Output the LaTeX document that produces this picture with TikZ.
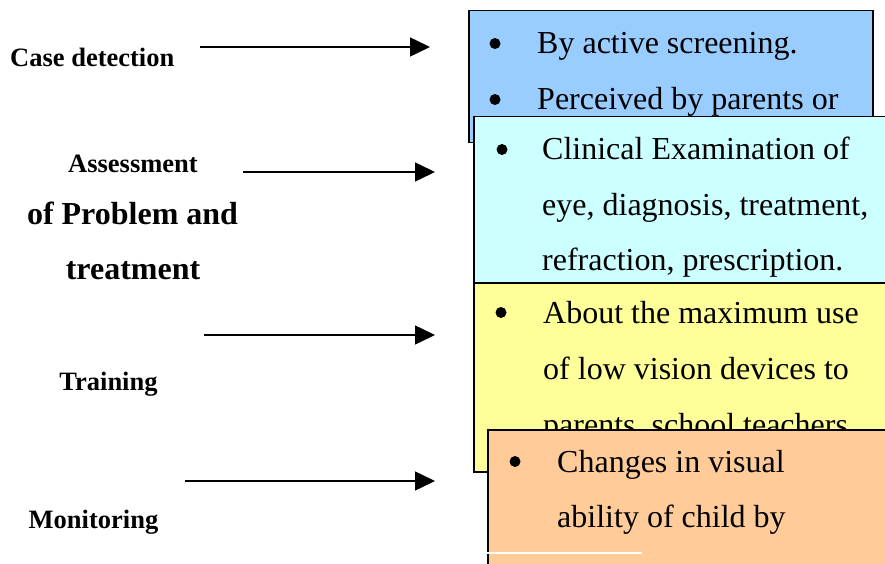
\documentclass[tikz,border=0pt]{standalone}
\usepackage{fontspec}
\setmainfont{Liberation Serif}
\usetikzlibrary{arrows.meta}
\definecolor{boxblue}{HTML}{99CCFF}
\definecolor{boxcyan}{HTML}{CCFFFF}
\definecolor{boxyellow}{HTML}{FFFF99}
\definecolor{boxorange}{HTML}{FFCC99}
\begin{document}
\begin{tikzpicture}[x=1pt,y=-1pt]
    \tikzstyle{every node}=[inner sep=0pt]
    \tikzstyle{stage}=[anchor=base,font=\fontsize{26.5}{30}\selectfont\bfseries]
    \tikzstyle{bigstage}=[anchor=base,font=\fontsize{32}{36}\selectfont\bfseries]
    \tikzstyle{panel}=[anchor=north west,draw,line width=1.5pt]
    \tikzstyle{item}=[anchor=base west,font=\fontsize{32}{36}\selectfont]
    \tikzstyle{bul}=[circle,fill=black,minimum size=11pt]
    \tikzstyle{flow}=[line width=1.5pt,-{Triangle[length=20pt,width=19pt]}]
    \useasboundingbox (0,0) rectangle (885,564);
    \clip (0,0) rectangle (885,564);
    %%%%% stages
    \draw (10,67) node[stage,anchor=base west] (s1) {Case detection};
    \draw (133,172) node[stage] (s2) {Assessment};
    \draw (132.5,224) node[bigstage] (s2b) {of Problem and};
    \draw (133,279) node[bigstage] (s2c) {treatment};
    \draw (108.5,390) node[stage] (s3) {Training};
    \draw (93.5,528) node[stage] (s4) {Monitoring};
    %%%%% arrows
    \coordinate (a1) at (200,47);  \coordinate (p1) at (430,47);
    \coordinate (a2) at (243,172); \coordinate (p2) at (435,172);
    \coordinate (a3) at (204,335); \coordinate (p3) at (435,335);
    \coordinate (a4) at (185,481); \coordinate (p4) at (435,481);
    \draw[flow] (a1) -- (p1);
    \draw[flow] (a2) -- (p2);
    \draw[flow] (a3) -- (p3);
    \draw[flow] (a4) -- (p4);
    %%%%% case detection
    \draw (468,10) node[panel,fill=boxblue,minimum width=404,minimum height=132] (b1) {};
    \draw (495,43.5) node[bul] (b1x) {};
    \draw (537,54) node[item] (b1a) {By active screening.};
    \draw (495,99.5) node[bul] (b1y) {};
    \draw (537,110) node[item] (b1b) {Perceived by parents or};
    %%%%% assessment
    \draw (473,116) node[panel,fill=boxcyan,minimum width=440,minimum height=166] (b2) {};
    \draw (502,149.5) node[bul] (b2x) {};
    \draw (542,160) node[item] (b2a) {Clinical Examination of};
    \draw (542,215) node[item] (b2b) {eye, diagnosis, treatment,};
    \draw (542,270) node[item] (b2c) {refraction, prescription.};
    %%%%% training
    \draw (473,282) node[panel,fill=boxyellow,minimum width=440,minimum height=189] (b3) {};
    \draw (501,312.5) node[bul] (b3x) {};
    \draw (543,323) node[item] (b3a) {About the maximum use};
    \draw (543,379) node[item] (b3b) {of low vision devices to};
    \draw (543,435) node[item] (b3c) {parents, school teachers};
    %%%%% monitoring
    \draw (487,429) node[panel,fill=boxorange,minimum width=440,minimum height=160] (b4) {};
    \draw (515,461.5) node[bul] (b4x) {};
    \draw (557,472) node[item] (b4a) {Changes in visual};
    \draw (557,527) node[item] (b4b) {ability of child by};
    \coordinate (w1) at (487,553); \coordinate (w2) at (642,553);
    \draw[white,line width=1.5pt] (w1) -- (w2);
\end{tikzpicture}
\end{document}
